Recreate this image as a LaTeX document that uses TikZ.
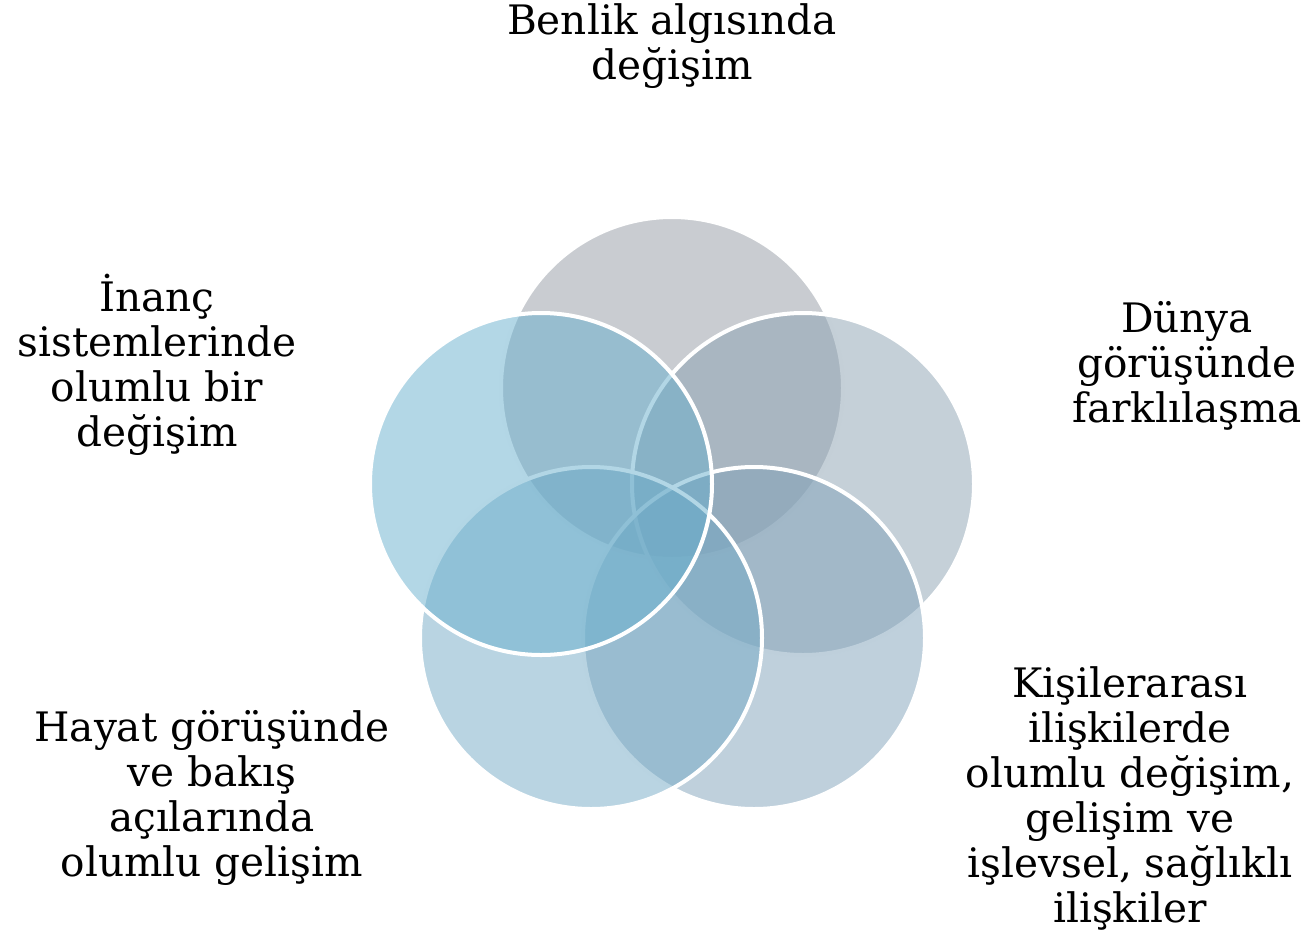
\documentclass[tikz,border=0pt]{standalone}
\usepackage{fontspec}
\setmainfont{DejaVu Serif}
\usepackage{tikz}
\usetikzlibrary{positioning}

\definecolor{ringA}{RGB}{147,153,163}
\definecolor{ringB}{RGB}{139,161,177}
\definecolor{ringC}{RGB}{127,161,185}
\definecolor{ringD}{RGB}{115,169,197}
\definecolor{ringE}{RGB}{103,175,205}

\tikzset{
  ring/.style={circle, minimum size=171pt, inner sep=0pt, draw=white,
    line width=2pt, fill opacity=0.5},
  label/.style={align=center, font=\fontsize{20.3}{22.5}\selectfont, inner sep=0pt}
}

\begin{document}
\begin{tikzpicture}[x=0.5pt, y=-0.5pt]
    \useasboundingbox (0,0) rectangle (1312,933);

    % circles, back to front
    \node[ring, fill=ringA] (benlik) at (672,388) {};
    \node[ring, fill=ringB] (dunya) at (803,484) {};
    \node[ring, fill=ringC] (kisi) at (754,638) {};
    \node[ring, fill=ringD] (hayat) at (591,638) {};
    \node[ring, fill=ringE] (inanc) at (541,484) {};

    % texts
    \node[label] (tbenlik) at (672,46) {Benlik algısında\\değişim};
    \node[label] (tdunya) at (1187,366) {Dünya\\görüşünde\\farklılaşma};
    \node[label] (tkisi) at (1130,798) {Kişilerarası\\ilişkilerde\\olumlu değişim,\\gelişim ve\\işlevsel, sağlıklı\\ilişkiler};
    \node[label] (thayat) at (212,798) {Hayat görüşünde\\ve bakış\\açılarında\\olumlu gelişim};
    \node[label] (tinanc) at (157,365) {İnanç\\sistemlerinde\\olumlu bir\\değişim};
\end{tikzpicture}
\end{document}
